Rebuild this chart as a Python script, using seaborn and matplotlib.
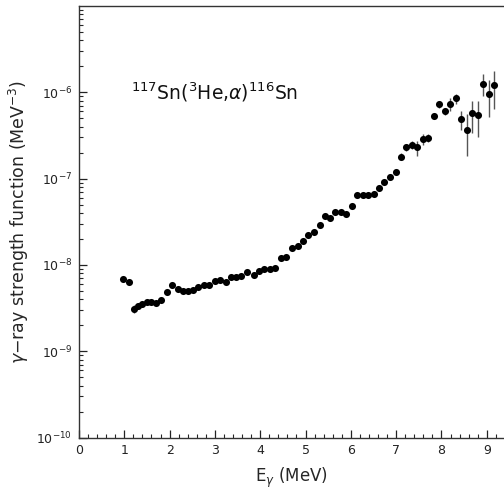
import numpy as np
import pandas as pd
import seaborn as sns
import matplotlib
matplotlib.use("Agg")
import matplotlib.pyplot as plt
from matplotlib.ticker import MultipleLocator, LogLocator, NullFormatter

# Data
energy = [0.98, 1.10, 1.21, 1.30, 1.39, 1.49, 1.59, 1.69, 1.82, 1.94,
          2.05, 2.18, 2.29, 2.40, 2.51, 2.63, 2.75, 2.87, 3.00, 3.11,
          3.24, 3.36, 3.47, 3.58, 3.71, 3.86, 3.97, 4.09, 4.21, 4.33,
          4.46, 4.57, 4.70, 4.83, 4.94, 5.06, 5.18, 5.31, 5.42, 5.53,
          5.66, 5.78, 5.89, 6.02, 6.14, 6.26, 6.37, 6.50, 6.62, 6.74,
          6.87, 6.99, 7.11, 7.22, 7.35, 7.47, 7.59, 7.71, 7.83, 7.95,
          8.07, 8.18, 8.31, 8.44, 8.56, 8.68, 8.80, 8.92, 9.04, 9.15]
strength = [6.9e-9, 6.3e-9, 3.1e-9, 3.3e-9, 3.5e-9, 3.7e-9, 3.7e-9, 3.6e-9, 3.9e-9, 4.9e-9,
            5.9e-9, 5.2e-9, 5.0e-9, 5.0e-9, 5.1e-9, 5.6e-9, 5.9e-9, 5.8e-9, 6.5e-9, 6.7e-9,
            6.3e-9, 7.2e-9, 7.3e-9, 7.5e-9, 8.2e-9, 7.6e-9, 8.6e-9, 8.9e-9, 9.0e-9, 9.3e-9,
            1.2e-8, 1.25e-8, 1.55e-8, 1.65e-8, 1.9e-8, 2.2e-8, 2.4e-8, 2.9e-8, 3.7e-8, 3.45e-8,
            4.15e-8, 4.15e-8, 3.85e-8, 4.8e-8, 6.4e-8, 6.4e-8, 6.4e-8, 6.7e-8, 7.85e-8, 9.1e-8,
            1.05e-7, 1.2e-7, 1.8e-7, 2.3e-7, 2.45e-7, 2.3e-7, 2.85e-7, 2.95e-7, 5.3e-7, 7.25e-7,
            6.0e-7, 7.25e-7, 8.5e-7, 4.85e-7, 3.7e-7, 5.7e-7, 5.45e-7, 1.26e-6, 9.55e-7, 1.2e-6]
rel_err = [0.04, 0.04, 0.10, 0.06, 0.05, 0.05, 0.05, 0.05, 0.05, 0.05,
           0.05, 0.05, 0.05, 0.05, 0.05, 0.05, 0.05, 0.05, 0.05, 0.05,
           0.05, 0.05, 0.05, 0.05, 0.05, 0.05, 0.05, 0.05, 0.05, 0.05,
           0.05, 0.05, 0.05, 0.05, 0.05, 0.05, 0.05, 0.05, 0.05, 0.05,
           0.05, 0.05, 0.05, 0.05, 0.06, 0.06, 0.06, 0.07, 0.07, 0.07,
           0.08, 0.08, 0.09, 0.10, 0.10, 0.20, 0.14, 0.10, 0.08, 0.10,
           0.10, 0.17, 0.13, 0.24, 0.50, 0.40, 0.45, 0.29, 0.46, 0.46]

df = pd.DataFrame({"E": energy, "S": strength, "rel": rel_err})
df["err"] = df["S"] * df["rel"]

sns.set_theme(style="ticks")
plt.rcParams["font.family"] = ["DejaVu Sans"]
plt.rcParams["mathtext.fontset"] = "dejavusans"

fig = plt.figure(figsize=(5.04, 4.90), dpi=100)
ax = fig.add_axes([79/504, 52.5/490, 1 - 79/504, (437.5 - 6)/490])

ax.errorbar(df["E"], df["S"], yerr=df["err"], fmt="none",
            ecolor="#555555", elinewidth=1.0, capsize=0, zorder=2)
sns.scatterplot(data=df, x="E", y="S", ax=ax, color="black", s=26,
                edgecolor="black", linewidth=0, zorder=3, legend=False)

ax.set_yscale("log")
ax.set_xlim(0, 9.38)
ax.set_ylim(1e-10, 1e-5)

ax.xaxis.set_major_locator(MultipleLocator(1))
ax.xaxis.set_minor_locator(MultipleLocator(0.2))
ax.yaxis.set_minor_locator(LogLocator(base=10, subs=np.arange(2, 10), numticks=20))
ax.yaxis.set_minor_formatter(NullFormatter())
ax.set_yticks([1e-10, 1e-9, 1e-8, 1e-7, 1e-6])

ax.tick_params(axis="both", which="major", direction="in", length=6, width=0.9,
               labelsize=9, colors="#222222", pad=5)
ax.tick_params(axis="both", which="minor", direction="in", length=3, width=0.8)
ax.tick_params(axis="x", which="both", top=False)
ax.tick_params(axis="y", which="both", right=False)

for side in ["left", "bottom", "top"]:
    ax.spines[side].set_linewidth(1.0)
    ax.spines[side].set_color("#333333")
ax.spines["right"].set_visible(False)

ax.set_xlabel(r"E$_{\gamma}$ (MeV)", fontsize=12, labelpad=6)
ax.set_ylabel(r"$\gamma$−ray strength function (MeV$^{-3}$)", fontsize=12.5, labelpad=4)

ax.text(1.15, 1.0e-6, r"$^{117}$Sn($^{3}$He,$\alpha$)$^{116}$Sn", fontsize=13.5,
        va="center", ha="left", color="#111111")

fig.savefig("out.png", dpi=100)
